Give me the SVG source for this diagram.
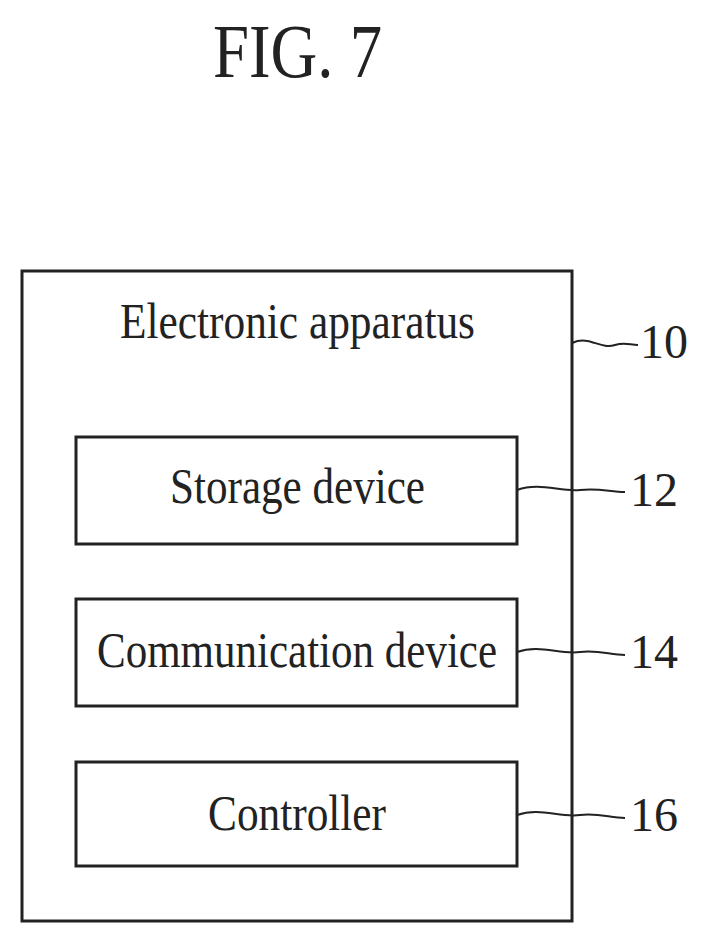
<svg xmlns="http://www.w3.org/2000/svg" width="708" height="946" viewBox="0 0 708 946">
<style>
.b{fill:none;stroke:#222;stroke-width:3}
.t{font-family:"Liberation Serif",serif;fill:#222}
.c{fill:none;stroke:#222;stroke-width:2}
</style>
<rect width="708" height="946" fill="#fff"/>
<text class="t" x="213" y="77" font-size="76" textLength="169" lengthAdjust="spacingAndGlyphs">FIG. 7</text>
<g id="n10"><rect class="b" x="22" y="271" width="550" height="650"/>
<text class="t" x="120" y="338" font-size="50" textLength="355" lengthAdjust="spacingAndGlyphs">Electronic apparatus</text></g>
<g id="n12"><rect class="b" x="76" y="437" width="441" height="107"/>
<text class="t" x="170" y="503" font-size="50" textLength="255" lengthAdjust="spacingAndGlyphs">Storage device</text></g>
<g id="n14"><rect class="b" x="76" y="599" width="441" height="107"/>
<text class="t" x="97" y="667" font-size="50" textLength="400" lengthAdjust="spacingAndGlyphs">Communication device</text></g>
<g id="n16"><rect class="b" x="76" y="762" width="441" height="104"/>
<text class="t" x="208" y="830" font-size="50" textLength="178" lengthAdjust="spacingAndGlyphs">Controller</text></g>
<g id="connectors">
<path class="c" d="M572 343 C590 335,600 350,615 345 C625 342,630 345,638 345"/>
<path class="c" d="M517 490 C540 482,560 492,580 490 C600 488,610 492,625 492"/>
<path class="c" d="M517 652 C540 644,560 655,580 652 C600 650,610 655,625 655"/>
<path class="c" d="M517 815 C540 807,560 818,580 815 C600 813,610 818,625 818"/>
</g>
<g class="t" font-size="48"><text x="640" y="358" textLength="48" lengthAdjust="spacingAndGlyphs">10</text><text x="630" y="506" textLength="48" lengthAdjust="spacingAndGlyphs">12</text><text x="630" y="668" textLength="48" lengthAdjust="spacingAndGlyphs">14</text><text x="630" y="831" textLength="48" lengthAdjust="spacingAndGlyphs">16</text></g>
</svg>
